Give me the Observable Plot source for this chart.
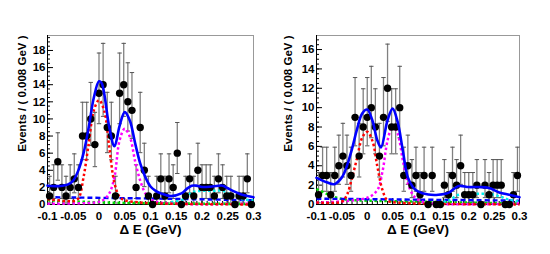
<!DOCTYPE html>
<html><head><meta charset="utf-8">
<script src="https://cdn.jsdelivr.net/npm/d3@7"></script>
<script src="https://cdn.jsdelivr.net/npm/@observablehq/plot@0.6"></script>
<style>
body{margin:0;background:#fff;overflow:hidden}
#wrap{position:relative;width:550px;height:254px}
.panel{position:absolute;top:0}
.panel text{font-weight:bold}
</style></head><body><div id="wrap"></div>
<script>
// ---- data ----
const binCenters = [-0.096,-0.088,-0.080,-0.072,-0.064,-0.056,-0.048,-0.040,-0.032,-0.024,
  -0.016,-0.008,0.000,0.008,0.016,0.024,0.032,0.040,0.048,0.056,
  0.064,0.072,0.080,0.088,0.096,0.104,0.112,0.120,0.128,0.136,
  0.144,0.152,0.160,0.168,0.176,0.184,0.192,0.200,0.208,0.216,
  0.224,0.232,0.240,0.248,0.256,0.264,0.272,0.280,0.288,0.296];

const countsLeft = [1,2,5,2,1,2,3,2,8,8, 10,7,13,14,9,8,1,13,14,12, 11,2,9,4,1,0,1,3,1,3,
  2,6,0,1,3,1,4,2,2,2, 1,3,2,1,1,0,1,1,3,0];
const countsRight = [1,3,3,1,3,4,5,4,3,9, 5,8,9,10,8,5,9,12,8,8, 10,3,4,2,3,1,3,0,3,0,
  0,2,1,3,2,4,1,1,1,2, 0,2,1,2,2,2,0,0,1,3];

// Poisson 68.27% interval bounds indexed by count
const poissonLow  = [0,0.173,0.708,1.367,2.086,2.840,3.620,4.419,5.232,6.057,6.891,7.734,8.585,9.441,10.30];
const poissonHigh = [1.841,3.300,4.638,5.918,7.163,8.382,9.584,10.77,11.95,13.11,14.27,15.42,16.56,17.70,18.83];

const xTicks = [-0.1,-0.05,0,0.05,0.1,0.15,0.2,0.25,0.3];
const yTicksLeft = [0,2,4,6,8,10,12,14,16,18];
const yTicksRight = [0,2,4,6,8,10,12,14,16];
const yTitle = "Events / ( 0.008 GeV )";
const xTitle = "\u0394 E (GeV)";

// fit curves: [x, y]
const totalLeftX = [-0.1,-0.08,-0.07,-0.06,-0.05,-0.04,-0.03,-0.02,-0.01,0,0.005,0.01,0.02,0.03,0.04,0.05,0.06,0.07,0.08,0.09,0.1,0.11,0.12,0.14,0.16,0.17,0.18,0.19,0.2,0.22,0.24,0.25,0.26,0.28,0.3];
const totalLeftY = [2.2,2.15,2.2,2.35,2.8,4.0,6.0,9.0,12.5,14.4,14.2,13.0,9.0,6.8,9.2,10.8,9.8,7.2,4.8,3.2,2.1,1.6,1.3,1.0,1.3,1.8,2.2,2.2,2.05,2.1,2.2,1.9,1.6,1.1,0.85];
const peak1LeftX = [-0.1,-0.06,-0.05,-0.04,-0.03,-0.02,-0.01,0,0.01,0.02,0.03,0.04,0.05,0.07,0.1,0.3];
const peak1LeftY = [0.6,0.4,0.4,0.7,3.2,7.1,11.0,12.2,11.0,6.7,2.5,0.9,0.5,0.3,0.15,0.0];
const peak2LeftX = [-0.1,0,0.01,0.02,0.03,0.04,0.05,0.06,0.07,0.08,0.09,0.1,0.12,0.3];
const peak2LeftY = [0.1,0.3,0.6,1.3,3.2,7.5,8.85,7.9,5.1,2.8,1.3,0.6,0.2,0.1];
const bumpLeftX = [0.14,0.16,0.17,0.18,0.2,0.22,0.24,0.26,0.28,0.3];
const bumpLeftY = [0.3,0.5,0.8,1.4,1.6,1.6,1.6,1.0,0.6,0.5];
const bkgLeftX = [-0.1,0.1,0.3];
const bkgLeftY = [0.85,0.7,0.5];
const greenLeftX = [-0.1,0,0.1,0.3];
const greenLeftY = [0.5,0.25,0.15,0.05];

const totalRightX = [-0.1,-0.08,-0.065,-0.05,-0.04,-0.03,-0.02,-0.01,0,0.01,0.02,0.027,0.04,0.05,0.06,0.07,0.08,0.09,0.1,0.12,0.14,0.16,0.18,0.2,0.22,0.24,0.26,0.28,0.3];
const totalRightY = [2.75,2.3,2.1,2.8,4.0,5.75,7.8,9.4,9.8,8.7,6.6,5.9,8.7,9.9,8.5,5.6,2.8,1.8,1.35,1.03,1.0,1.2,1.9,1.8,1.8,1.7,1.25,1.0,0.75];
const peak1RightX = [-0.1,-0.05,-0.04,-0.03,-0.02,-0.01,0,0.01,0.02,0.03,0.04,0.06,0.1,0.3];
const peak1RightY = [0.2,0.3,1.0,2.75,4.8,6.9,7.5,6.6,3.9,1.5,0.4,0.2,0.1,0.0];
const peak2RightX = [-0.1,0,0.02,0.03,0.04,0.05,0.06,0.07,0.08,0.09,0.1,0.12,0.3];
const peak2RightY = [0.2,0.7,1.5,3.4,6.6,8.15,7.3,4.6,2.2,1.0,0.5,0.15,0.1];
const bumpRightX = [0.14,0.16,0.18,0.2,0.22,0.24,0.26,0.28,0.3];
const bumpRightY = [0.2,0.4,1.0,1.1,1.1,1.1,0.85,0.5,0.3];
const bkgRightX = [-0.1,0.1,0.3];
const bkgRightY = [0.6,0.5,0.4];
const greenRightX = [-0.1,-0.08,-0.06,-0.04,0.1,0.3];
const greenRightY = [1.6,1.1,0.7,0.5,0.3,0.1];

// ---- drawing ----
const capSymbol = {draw(ctx, size){ const r = Math.sqrt(size/Math.PI); ctx.moveTo(-r,0); ctx.lineTo(r,0); }};
const fmt = d => String(+d.toFixed(2));

function series(xs, ys){ return xs.map((x,i)=>({x, y: ys[i]})); }

function panel(cfg){
  const pts = binCenters.map((x,i)=>({x, n: cfg.counts[i]}));
  const err = pts.filter(d=>d.n>0).map(d=>({x:d.x, lo: poissonLow[d.n], hi: poissonHigh[d.n]}));
  const dotted = {strokeWidth: 2.5, strokeDasharray: "2.5,2.5", strokeLinecap: "butt", curve: "catmull-rom"};
  const lab = {fontSize: 11.5, fontWeight: "bold", label: null};
  return Plot.plot({
    width: 275, height: 254,
    marginLeft: cfg.ml, marginRight: cfg.mr, marginTop: 35, marginBottom: 50,
    style: {fontFamily: "'Liberation Sans', Arial, sans-serif", fontWeight: "bold", fontSize: "11px", color: "#000", background: "#fff"},
    x: {domain: [-0.1, 0.3]},
    y: {domain: [0, cfg.ymax]},
    marks: [
      Plot.frame({stroke: "#999"}),
      Plot.axisX(xTicks, {tickSize: 0, tickPadding: 7, tickFormat: fmt, ...lab}),
      Plot.axisY(cfg.yTicks, {tickSize: 0, tickPadding: 2, tickFormat: fmt, ...lab}),
      Plot.axisX(d3.range(-0.1, 0.3001, 0.01), {tickSize: -3, tickFormat: () => "", label: null}),
      Plot.axisX(xTicks, {tickSize: -6, tickFormat: () => "", label: null}),
      Plot.axisY(d3.range(0, cfg.ymax, 0.5), {tickSize: -3, tickFormat: () => "", label: null}),
      Plot.axisY(cfg.yTicks, {tickSize: -6, tickFormat: () => "", label: null}),
      Plot.ruleY([0], {stroke: "#000"}),
      Plot.ruleX([-0.1], {stroke: "#000"}),
      Plot.ruleX(err, {x: "x", y1: "lo", y2: "hi", stroke: "#808080", strokeWidth: 1.3}),
      Plot.dot(err, {x: "x", y: "hi", symbol: capSymbol, r: 2.2, stroke: "#555", strokeWidth: 1}),
      Plot.dot(err.filter(d=>d.lo>0), {x: "x", y: "lo", symbol: capSymbol, r: 2.2, stroke: "#555", strokeWidth: 1}),
      Plot.line(series(cfg.green[0], cfg.green[1]), {x:"x", y:"y", stroke: "#00dd00", ...dotted}),
      Plot.line(series(cfg.bkg[0], cfg.bkg[1]), {x:"x", y:"y", stroke: "#0000ff", strokeWidth: 2.4, strokeDasharray: "5,3", strokeLinecap: "butt", curve: "catmull-rom"}),
      Plot.line(series(cfg.bump[0], cfg.bump[1]), {x:"x", y:"y", stroke: "#00eeee", ...dotted}),
      Plot.line(series(cfg.peak2[0], cfg.peak2[1]), {x:"x", y:"y", stroke: "#ff00ff", ...dotted}),
      Plot.line(series(cfg.peak1[0], cfg.peak1[1]), {x:"x", y:"y", stroke: "#ff0000", ...dotted}),
      Plot.dot(pts, {x: "x", y: "n", r: 3.7, fill: "#000"}),
      Plot.line(series(cfg.total[0], cfg.total[1]), {x:"x", y:"y", stroke: "#0000ff", strokeWidth: 2.6, curve: "catmull-rom"}),
      Plot.text([yTitle], {frameAnchor: "top-left", rotate: -90, textAnchor: "end", lineAnchor: "middle", dx: cfg.ytdx, fontSize: 11.5, fontWeight: "bold"}),
      Plot.text([xTitle], {frameAnchor: "bottom", lineAnchor: "middle", dy: 25, fontSize: 13.5, fontWeight: "bold"})
    ]
  });
}

const wrap = document.getElementById("wrap");
const left = panel({counts: countsLeft, ml: 47, mr: 22, ymax: 19.75, yTicks: yTicksLeft, ytdx: -25,
  total: [totalLeftX,totalLeftY], peak1: [peak1LeftX,peak1LeftY], peak2: [peak2LeftX,peak2LeftY],
  bump: [bumpLeftX,bumpLeftY], bkg: [bkgLeftX,bkgLeftY], green: [greenLeftX,greenLeftY]});
left.classList.add("panel"); left.style.left = "0px";
const right = panel({counts: countsRight, ml: 41, mr: 31, ymax: 17.45, yTicks: yTicksRight, ytdx: -28,
  total: [totalRightX,totalRightY], peak1: [peak1RightX,peak1RightY], peak2: [peak2RightX,peak2RightY],
  bump: [bumpRightX,bumpRightY], bkg: [bkgRightX,bkgRightY], green: [greenRightX,greenRightY]});
right.classList.add("panel"); right.style.left = "275px";
wrap.appendChild(left); wrap.appendChild(right);
</script></body></html>
